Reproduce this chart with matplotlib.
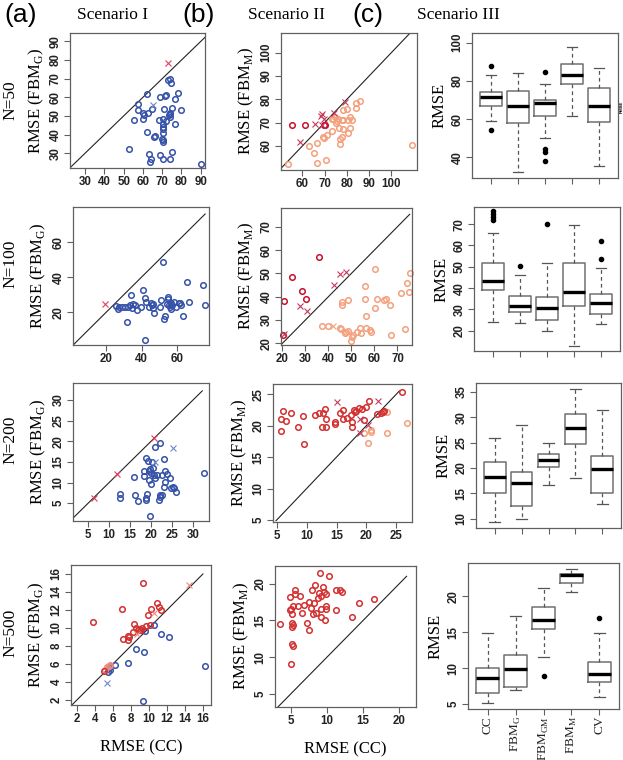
import numpy as np
import matplotlib
matplotlib.use("Agg")
import matplotlib.pyplot as plt

plt.rcParams['mathtext.fontset'] = 'custom'
plt.rcParams['mathtext.rm'] = 'Liberation Serif'

W, H = 623, 760

# ---------------- data ----------------
# Scenario I
A1_CIRC_X = [52.8, 55.3, 57.6, 57.2, 59.8, 60.5, 60.2, 62.2, 62.9, 64.5, 62.2, 63.1, 64.0, 63.6, 66.2, 65.9,
             68.4, 69.1, 68.8, 70.5, 70.2, 70.2, 70.2, 70.2, 69.7, 70.2, 70.5, 70.5, 70.9, 71.7, 72.2, 72.2,
             72.8, 74.3, 74.8, 73.6, 74.3, 74.0, 74.0, 75.2, 76.9, 78.0, 75.2, 74.3, 76.6, 80.0, 90.0]
A1_CIRC_Y = [32.5, 47.9, 56.4, 53.2, 51.8, 50.4, 48.6, 61.8, 51.8, 53.6, 41.4, 29.5, 27.1, 25.4, 39.3, 38.9,
             47.9, 60.0, 29.3, 48.6, 45.7, 44.3, 42.9, 40.7, 37.9, 37.1, 36.3, 26.8, 53.6, 60.7, 61.3, 47.5,
             69.3, 69.6, 67.9, 50.5, 51.1, 49.6, 51.8, 54.1, 58.9, 62.1, 30.7, 27.1, 45.7, 53.2, 24.3]
A1_REDX_X, A1_REDX_Y = [72.8], [78.4]
A1_BLUEX_X, A1_BLUEX_Y = [65.3], [55.9]

A2_CIRC_X = [25.6, 26.4, 27.1, 28.8, 30.7, 31.6, 32.6, 33.5, 34.0, 34.4, 35.4, 36.3, 37.3, 39.7, 41.0, 42.0,
             42.3, 41.8, 44.1, 45.6, 46.0, 46.4, 46.9, 46.6, 50.4, 51.2, 52.3, 52.6, 53.5, 54.5, 55.0, 55.2,
             55.8, 56.3, 56.7, 56.7, 57.3, 58.6, 59.7, 61.3, 62.2, 62.0, 63.5, 65.8, 66.9, 74.8, 75.9]
A2_CIRC_Y = [23.8, 21.9, 22.9, 22.9, 23.2, 14.7, 23.2, 24.2, 29.7, 22.3, 24.8, 24.2, 21.3, 23.2, 32.4, 28.0,
             26.1, 4.2, 23.2, 25.5, 24.2, 22.3, 19.8, 24.8, 22.9, 26.9, 48.4, 16.2, 17.9, 24.8, 28.6, 27.6,
             24.2, 22.9, 25.1, 21.7, 24.2, 25.9, 23.2, 25.1, 24.2, 25.5, 17.9, 37.1, 26.1, 35.8, 24.2]
A2_REDX_X, A2_REDX_Y = [19.6], [24.6]

A3_CIRC_X = [12.7, 12.7, 16.0, 16.1, 16.8, 18.3, 18.3, 18.7, 18.9, 18.9, 19.1, 19.3, 19.5, 19.5, 19.7, 19.9,
             19.8, 20.1, 20.3, 20.5, 20.6, 20.9, 21.0, 21.4, 21.9, 22.1, 22.2, 22.1, 22.5, 22.7, 23.0, 23.0,
             23.3, 23.7, 23.4, 24.6, 24.7, 25.2, 25.5, 25.9, 32.6]
A3_CIRC_Y = [7.2, 6.2, 11.3, 6.9, 5.6, 11.5, 12.7, 16.0, 6.2, 5.8, 7.2, 15.2, 12.7, 10.6, 13.3, 9.6,
             2.0, 12.3, 15.1, 13.5, 11.9, 11.0, 18.5, 11.9, 5.8, 6.4, 6.9, 19.5, 11.9, 6.9, 15.7, 9.0,
             12.8, 12.0, 10.2, 11.2, 8.8, 9.0, 8.6, 7.7, 12.3]
A3_REDX_X, A3_REDX_Y = [6.3, 12.0, 20.6], [6.2, 12.0, 20.7]
A3_BLUEX_X, A3_BLUEX_Y = [25.2, 20.9], [18.3, 15.1]

A4_RED_X = [3.7, 7.0, 9.3, 7.1, 7.6, 7.7, 7.8, 8.2, 8.3, 8.5, 8.8, 8.9, 9.1, 9.2, 9.7, 9.9, 10.1, 10.2,
            10.9, 11.1, 11.3, 5.0]
A4_RED_Y = [10.6, 12.1, 15.0, 8.7, 8.6, 9.1, 9.0, 9.5, 10.4, 10.0, 9.8, 9.9, 9.8, 10.0, 10.2, 11.4, 10.3, 12.1,
            12.8, 12.3, 12.0, 5.2]
A4_LRED_X, A4_LRED_Y = [5.1, 5.3, 5.5, 5.6], [5.3, 5.6, 5.8, 5.9]
A4_REDX_X, A4_REDX_Y = [14.4, 10.5, 8.6], [14.8, 11.6, 9.3]
A4_BLUE_X = [5.7, 5.5, 5.4, 5.6, 6.2, 7.6, 8.5, 9.4, 9.6, 10.6, 11.3, 12.2, 9.3, 16.2]
A4_BLUE_Y = [5.8, 5.5, 5.1, 5.3, 5.9, 6.1, 7.6, 7.3, 9.7, 10.3, 9.3, 9.0, 1.9, 5.7]
A4_BLUEX_X, A4_BLUEX_Y = [5.3], [3.9]

# Scenario II
B1_DARK_X, B1_DARK_Y = [55.5, 61.2, 69.6, 70.1], [69.1, 69.0, 68.9, 69.0]
B1_CROSS_X = [59.0, 65.7, 68.4, 69.0, 69.6, 74.3, 79.1, 68.7]
B1_CROSS_Y = [61.6, 69.3, 72.9, 73.7, 71.7, 74.3, 78.9, 69.0]
B1_SALM_X = [53.7, 63.0, 65.4, 66.4, 66.4, 69.4, 69.9, 70.9, 70.6, 73.4, 73.6, 74.6, 75.4, 75.1, 75.8, 76.6,
             76.9, 76.9, 77.6, 77.6, 78.1, 78.4, 78.4, 79.9, 80.3, 80.6, 81.5, 81.6, 82.1, 83.9, 84.3, 86.0,
             109.3, 73.1]
B1_SALM_Y = [52.3, 60.0, 56.9, 61.1, 52.6, 64.0, 63.3, 64.9, 54.0, 66.6, 71.6, 72.6, 70.6, 69.7, 71.4, 67.6,
             62.9, 60.9, 71.1, 63.7, 67.1, 71.1, 75.4, 75.7, 71.1, 65.4, 72.3, 67.6, 71.1, 76.4, 78.6, 79.3,
             60.4, 71.4]

B2_DARK_X, B2_DARK_Y = [20.9, 24.0, 28.7, 30.1, 35.9, 20.4], [38.3, 48.6, 42.3, 39.1, 57.1, 23.6]
B2_CROSS_X = [27.6, 30.8, 42.5, 45.0, 47.8, 20.9]
B2_CROSS_Y = [36.0, 34.0, 44.9, 49.7, 50.4, 24.0]
B2_SALMX_X, B2_SALMX_Y = [41.8], [27.4]
B2_SALM_X = [37.3, 39.6, 45.0, 45.4, 46.1, 46.1, 47.1, 47.6, 48.3, 48.6, 49.7, 50.4, 50.7, 52.6, 53.6, 54.3,
             55.8, 55.8, 56.2, 56.2, 57.9, 58.4, 60.1, 60.1, 61.0, 64.2, 64.9, 66.6, 67.0, 71.7, 74.1, 74.8,
             75.6, 73.1]
B2_SALM_Y = [27.4, 27.4, 26.4, 26.0, 37.9, 36.4, 24.3, 25.0, 25.4, 38.6, 21.1, 22.9, 23.6, 25.0, 26.4, 24.6,
             44.6, 38.9, 31.7, 26.4, 25.7, 25.0, 51.7, 35.1, 38.9, 38.6, 38.9, 36.4, 23.6, 41.4, 45.7, 42.1,
             50.0, 26.0]

B3_RED_X = [5.7, 5.7, 6.1, 6.6, 7.4, 8.6, 9.4, 9.6, 11.4, 12.1, 12.5, 12.8, 13.1, 13.2, 13.2, 14.7, 14.8,
            15.6, 16.0, 16.0, 16.7, 17.5, 17.6, 17.6, 17.9, 18.1, 18.3, 18.7, 19.2, 19.6, 19.9, 20.4, 21.8,
            22.4, 22.7, 22.9, 25.9]
B3_RED_Y = [19.1, 21.0, 22.3, 20.8, 22.0, 19.7, 21.6, 17.0, 21.7, 22.0, 19.7, 22.0, 22.7, 21.0, 19.8, 20.5, 20.3,
            22.0, 22.5, 21.1, 21.2, 21.7, 20.6, 19.7, 22.5, 22.2, 22.3, 22.8, 22.6, 20.9, 22.9, 23.9, 21.8,
            22.0, 22.2, 22.3, 25.3]
B3_CROSS_X, B3_CROSS_Y = [15.1, 18.9, 21.9, 18.9, 20.2], [23.8, 21.1, 23.9, 18.9, 20.1]
B3_SALM_X = [19.6, 20.3, 20.7, 20.8, 23.5, 23.5, 26.8]
B3_SALM_Y = [18.8, 17.2, 19.3, 19.0, 18.8, 22.2, 20.4]

B4_RED_X = [3.5, 4.9, 4.9, 5.0, 5.0, 5.1, 5.1, 5.2, 5.2, 5.3, 5.3, 5.5, 5.3, 5.6, 6.0, 6.2, 6.5, 6.8, 7.2,
            7.5, 7.5, 7.8, 7.9, 8.1, 8.2, 8.4, 8.5, 8.8, 8.9, 9.0, 9.1, 9.1, 9.2, 9.5, 9.6, 9.7, 9.8, 9.8,
            9.8, 10.2, 11.2, 11.3, 11.8, 12.1, 13.5, 14.4, 16.5]
B4_RED_Y = [14.5, 18.2, 16.4, 16.6, 9.1, 14.6, 14.1, 15.9, 11.8, 11.5, 17.0, 19.1, 14.3, 18.6, 17.0, 18.3, 16.0,
            17.1, 14.6, 13.7, 17.5, 16.7, 19.1, 15.8, 17.4, 19.8, 16.0, 18.0, 18.7, 21.5, 15.5, 16.6, 18.3,
            19.5, 18.9, 15.1, 16.6, 17.0, 18.6, 21.1, 16.4, 19.1, 19.1, 18.9, 15.5, 17.3, 17.9]

# Scenario III box plots
METHODS = ["CC", r"FBM$_\mathregular{G}$", r"FBM$_\mathregular{GM}$", r"FBM$_\mathregular{M}$", "CV"]
C1_LO = [58.8, 32.4, 49.9, 61.4, 35.3]
C1_Q1 = [67.0, 57.7, 61.4, 78.2, 58.4]
C1_MED = [71.3, 67.0, 68.5, 83.2, 67.0]
C1_Q3 = [74.1, 74.5, 70.0, 89.0, 76.3]
C1_HI = [83.2, 84.1, 78.2, 97.9, 86.6]
C1_OUT = [[87.5, 54.3], [], [84.7, 44.1, 42.8, 38.0], [], []]

C2_LO = [23.9, 23.4, 20.0, 13.0, 23.1]
C2_Q1 = [38.9, 28.9, 25.0, 31.6, 27.8]
C2_MED = [43.4, 31.6, 30.6, 38.1, 32.8]
C2_Q3 = [51.6, 36.4, 35.9, 51.6, 37.2]
C2_HI = [65.6, 45.9, 51.9, 69.5, 49.4]
C2_OUT = [[76.0, 74.6, 73.2, 71.9], [50.5], [70.0], [], [61.9, 53.4]]

C3_LO = [9.3, 9.9, 16.7, 18.0, 13.0]
C3_Q1 = [15.0, 12.5, 20.1, 24.8, 15.0]
C3_MED = [18.2, 17.1, 21.5, 27.9, 19.8]
C3_Q3 = [21.2, 19.3, 22.7, 30.7, 22.3]
C3_HI = [25.9, 28.4, 25.0, 35.6, 31.4]
C3_OUT = [[], [], [], [], []]

C4_LO = [5.1, 6.9, 11.5, 20.5, 6.0]
C4_Q1 = [6.5, 7.4, 15.4, 21.8, 8.1]
C4_MED = [8.6, 9.8, 16.7, 22.9, 9.1]
C4_Q3 = [10.0, 11.8, 18.5, 23.1, 10.8]
C4_HI = [14.8, 17.2, 21.1, 23.8, 14.8]
C4_OUT = [[], [], [8.9], [], [17.0]]

# ---------------- styles ----------------
BLUE = '#3552a8'
BLUE_X = '#6f86cc'
RED_X = '#e0405a'
SALMON = '#f4a07c'
DARKRED = '#c8102e'
CRIMSON = '#c53a5d'
RED = '#d23030'
LRED = '#f08a80'
FRAME = '#606060'
SERIF = 'Liberation Serif'
SANS = 'Liberation Sans'


def box(l, t, r, b):
    return [l / W, 1 - b / H, (r - l) / W, (b - t) / H]


def style_axes(ax, xticks, yticks, xlim, ylim):
    ax.set_xlim(*xlim)
    ax.set_ylim(*ylim)
    if xticks is not None:
        ax.set_xticks(xticks)
    ax.set_yticks(yticks)
    for s in ax.spines.values():
        s.set_color(FRAME)
        s.set_linewidth(0.9)
    ax.tick_params(direction='out', length=4, width=0.8, color=FRAME, pad=2,
                   labelsize=8.3, labelcolor='#222222')
    ax.tick_params(axis='y', labelrotation=90)
    for lab in ax.get_yticklabels():
        lab.set_va('center')
        lab.set_fontweight('bold')
        lab.set_family(SANS)
    for lab in ax.get_xticklabels():
        lab.set_fontweight('bold')
        lab.set_family(SANS)


def circ(ax, x, y, c):
    ax.plot(x, y, 'o', ms=4.0, mfc='none', mec=c, mew=1.1, clip_on=False)


def cross(ax, x, y, c):
    ax.plot(x, y, 'x', ms=4.3, color=c, mew=0.8, clip_on=False)


def diag(ax, lo, hi):
    ax.plot([lo, hi], [lo, hi], color='#222222', lw=0.8)


def boxes(ax, lo, q1, med, q3, hi, out, ylim, yticks, labels=False):
    stats = [dict(whislo=a, q1=b, med=c, q3=d, whishi=e, fliers=f)
             for a, b, c, d, e, f in zip(lo, q1, med, q3, hi, out)]
    ax.bxp(stats, positions=[1, 2, 3, 4, 5], widths=0.8, capwidths=0.4,
           boxprops=dict(color='#707070', lw=1.1),
           whiskerprops=dict(color='#555555', lw=0.9, ls=(0, (3, 2.5))),
           capprops=dict(color='#555555', lw=0.9),
           medianprops=dict(color='black', lw=2.4, solid_capstyle='butt'),
           flierprops=dict(marker='o', ms=3, mfc='black', mec='black'))
    style_axes(ax, [1, 2, 3, 4, 5], yticks, (0.3, 5.7), ylim)
    if labels:
        ax.set_xticklabels(METHODS, rotation=90, family=SERIF, fontsize=9.5, fontweight='normal',
                           va='top', ha='center')
        ax.tick_params(axis='x', pad=1)
    else:
        ax.set_xticklabels([])
    ax.set_ylabel('RMSE', family=SERIF, fontsize=12, labelpad=3)


fig = plt.figure(figsize=(W / 100, H / 100), dpi=100)

ylab_a = r'RMSE (FBM$_\mathregular{G}$)'
ylab_b = r'RMSE (FBM$_\mathregular{M}$)'

# ---- column (a) ----
ax = fig.add_axes(box(70, 33, 205, 168))
diag(ax, 22, 95)
circ(ax, A1_CIRC_X, A1_CIRC_Y, BLUE)
cross(ax, A1_REDX_X, A1_REDX_Y, RED_X)
cross(ax, A1_BLUEX_X, A1_BLUEX_Y, BLUE_X)
style_axes(ax, range(30, 100, 10), range(30, 100, 10), (22.2, 92.2), (22.1, 94.5))
ax.set_ylabel(ylab_a, family=SERIF, fontsize=12, labelpad=3)

ax = fig.add_axes(box(73, 207, 209, 345))
diag(ax, 1.2, 76)
circ(ax, A2_CIRC_X, A2_CIRC_Y, BLUE)
cross(ax, A2_REDX_X, A2_REDX_Y, RED_X)
style_axes(ax, [20, 40, 60], [20, 40, 60], (1.2, 78.2), (1.3, 80.0))
ax.set_ylabel(ylab_a, family=SERIF, fontsize=12, labelpad=3)

ax = fig.add_axes(box(73, 383, 209, 521))
diag(ax, 1.0, 32.2)
circ(ax, A3_CIRC_X, A3_CIRC_Y, BLUE)
cross(ax, A3_REDX_X, A3_REDX_Y, RED_X)
cross(ax, A3_BLUEX_X, A3_BLUEX_Y, BLUE_X)
style_axes(ax, range(5, 35, 5), range(5, 35, 5), (1.4, 33.8), (0.7, 34.1))
ax.set_ylabel(ylab_a, family=SERIF, fontsize=12, labelpad=3)

ax = fig.add_axes(box(71, 565, 211, 705))
diag(ax, 1.4, 16.0)
circ(ax, A4_BLUE_X, A4_BLUE_Y, BLUE)
cross(ax, A4_BLUEX_X, A4_BLUEX_Y, BLUE_X)
circ(ax, A4_LRED_X, A4_LRED_Y, LRED)
circ(ax, A4_RED_X, A4_RED_Y, RED)
cross(ax, A4_REDX_X, A4_REDX_Y, LRED)
style_axes(ax, range(2, 17, 2), range(2, 17, 2), (1.3, 16.9), (1.4, 17.0))
ax.set_ylabel(ylab_a, family=SERIF, fontsize=12, labelpad=3)
ax.set_xlabel('RMSE (CC)', family=SERIF, fontsize=12, labelpad=10)

# ---- column (b) ----
ax = fig.add_axes(box(281, 33, 417, 170))
diag(ax, 50, 111.5)
circ(ax, B1_SALM_X, B1_SALM_Y, SALMON)
circ(ax, B1_DARK_X, B1_DARK_Y, DARKRED)
cross(ax, B1_CROSS_X, B1_CROSS_Y, CRIMSON)
style_axes(ax, range(60, 110, 10), range(60, 110, 10), (50.4, 111.5), (49.7, 108.4))
ax.set_ylabel(ylab_b, family=SERIF, fontsize=12, labelpad=3)

ax = fig.add_axes(box(281, 208, 412, 345))
diag(ax, 19.4, 75.3)
circ(ax, B2_SALM_X, B2_SALM_Y, SALMON)
cross(ax, B2_SALMX_X, B2_SALMX_Y, SALMON)
circ(ax, B2_DARK_X, B2_DARK_Y, DARKRED)
cross(ax, B2_CROSS_X, B2_CROSS_Y, CRIMSON)
style_axes(ax, range(20, 80, 10), range(20, 80, 10), (19.4, 76.3), (19.3, 78.0))
ax.set_ylabel(ylab_b, family=SERIF, fontsize=12, labelpad=3)

ax = fig.add_axes(box(273, 384, 412, 522))
diag(ax, 4.9, 25.5)
circ(ax, B3_SALM_X, B3_SALM_Y, SALMON)
circ(ax, B3_RED_X, B3_RED_Y, RED)
cross(ax, B3_CROSS_X, B3_CROSS_Y, CRIMSON)
style_axes(ax, range(5, 30, 5), range(5, 30, 5), (4.4, 27.6), (4.7, 26.6))
ax.set_ylabel(ylab_b, family=SERIF, fontsize=12, labelpad=3)

ax = fig.add_axes(box(275, 566, 416, 707))
diag(ax, 3.0, 21.0)
circ(ax, B4_RED_X, B4_RED_Y, RED)
style_axes(ax, range(5, 25, 5), range(5, 25, 5), (2.8, 22.3), (3.2, 22.4))
ax.set_ylabel(ylab_b, family=SERIF, fontsize=12, labelpad=3)
ax.set_xlabel('RMSE (CC)', family=SERIF, fontsize=12, labelpad=10)

# ---- column (c) ----
ax = fig.add_axes(box(472, 33, 618, 178))
boxes(ax, C1_LO, C1_Q1, C1_MED, C1_Q3, C1_HI, C1_OUT, (29.2, 105), [40, 60, 80, 100])
ax = fig.add_axes(box(474, 207, 620, 351))
boxes(ax, C2_LO, C2_Q1, C2_MED, C2_Q3, C2_HI, C2_OUT, (10.5, 78), range(20, 80, 10))
ax = fig.add_axes(box(476, 383, 621, 528))
boxes(ax, C3_LO, C3_Q1, C3_MED, C3_Q3, C3_HI, C3_OUT, (8.2, 36.7), range(10, 40, 5))
ax = fig.add_axes(box(468, 563, 619, 709))
boxes(ax, C4_LO, C4_Q1, C4_MED, C4_Q3, C4_HI, C4_OUT, (4.3, 24.6), [5, 10, 15, 20], labels=True)

fig.text(619.5 / W, 1 - 107 / H, 'RMSE', rotation=90, fontsize=3.2, fontweight='bold',
         family=SANS, ha='left', va='center')

# ---- headers ----
for x, t in [(4, '(a)'), (182, '(b)'), (352, '(c)')]:
    fig.text(x / W, 1 - 15 / H, t, family=SANS, fontsize=19, ha='left', va='center')
for x, t in [(113, 'Scenario I'), (287, 'Scenario II'), (458, 'Scenario III')]:
    fig.text(x / W, 1 - 15 / H, t, family=SERIF, fontsize=12.5, ha='center', va='center')
for y, t in [(100, 'N=50'), (264, 'N=100'), (440, 'N=200'), (633, 'N=500')]:
    fig.text(10 / W, 1 - y / H, t, family=SERIF, fontsize=12.5, rotation=90, ha='center', va='center')

fig.savefig('out.png', dpi=100)
